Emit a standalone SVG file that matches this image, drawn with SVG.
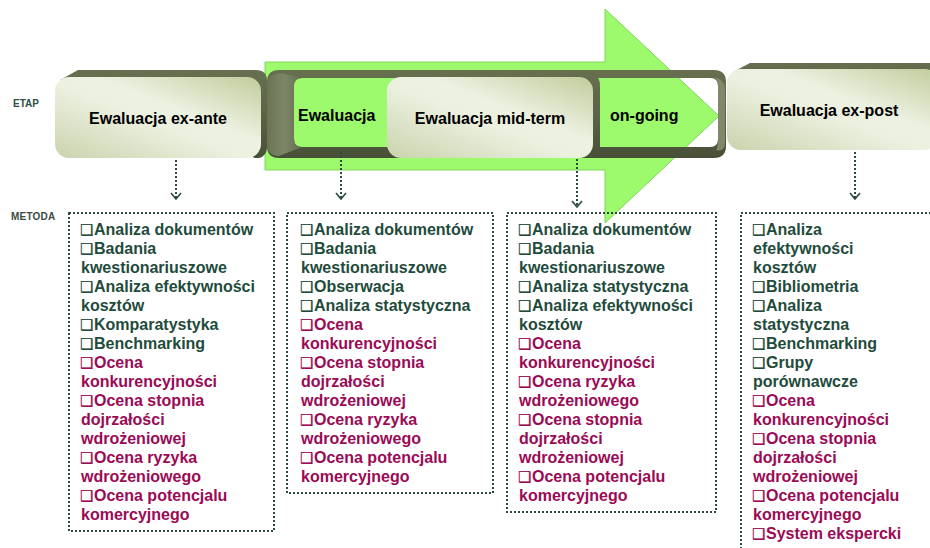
<svg xmlns="http://www.w3.org/2000/svg" width="930" height="548" viewBox="0 0 930 548">
<style>
.lbl{font-family:"Liberation Sans",Arial,sans-serif;font-weight:bold;font-size:10px}
.h{font-family:"Liberation Sans",Arial,sans-serif;font-weight:bold;font-size:16px;fill:#000}
.t{font-family:"Liberation Sans",Arial,sans-serif;font-weight:bold;font-size:16px}
.g{fill:#1f4b3c}
.m{fill:#9b0a55}
.q{font-family:"DejaVu Sans",sans-serif;font-weight:bold;font-size:15px}
.g.q{stroke:#1f4b3c;stroke-width:0.3}
.m.q{stroke:#9b0a55;stroke-width:0.3}
.box{fill:none;stroke:#2c4a3e;stroke-width:2;stroke-dasharray:2 2}
.con{fill:none;stroke:#2c4a3e;stroke-width:2;stroke-dasharray:2 2}
.face{fill:url(#face)}
.bev{fill:url(#bev)}
</style>
<defs>
<linearGradient id="face" x1="0" y1="1" x2="1" y2="0">
<stop offset="0" stop-color="#cad3ad"/>
<stop offset="0.45" stop-color="#ebf0df"/>
<stop offset="0.6" stop-color="#ecf1e1"/>
<stop offset="1" stop-color="#c1cc9b"/>
</linearGradient>
<linearGradient id="bev" x1="0" y1="0" x2="0" y2="1">
<stop offset="0" stop-color="#66704f"/>
<stop offset="0.5" stop-color="#5b6447"/>
<stop offset="1" stop-color="#474f37"/>
</linearGradient>
<linearGradient id="lft" x1="0" y1="0" x2="1" y2="0">
<stop offset="0" stop-color="#6a7352"/>
<stop offset="0.5" stop-color="#7d8667"/>
<stop offset="1" stop-color="#646d4d"/>
</linearGradient>
<marker id="ah" markerWidth="14" markerHeight="14" refX="0" refY="0" viewBox="-8 -7 10 14" orient="auto" markerUnits="userSpaceOnUse">
<path d="M-6,-5 L0,0 L-6,5" fill="none" stroke="#2c4a3e" stroke-width="1.6"/>
</marker>
</defs>
<rect width="930" height="548" fill="#fff"/>

<g id="arrow">
<polygon points="265,62 605,62 605,9 719,116 605,223 605,170 265,170" fill="#9cfa6c" stroke="#82d45a" stroke-width="1"/>
</g>

<g id="labels">
<text class="lbl" x="13" y="107" fill="#2e5045" font-size="10.5">ETAP</text>
<text class="lbl" x="11" y="220" fill="#3c4a44" letter-spacing="0.2">METODA</text>
</g>

<g id="ex-ante">
<path class="bev" d="M60,80 L78,70 H256 Q267,70 267,81 V147 Q267,156 259,158 H255 Z"/>
<rect class="face" x="55" y="77" width="206" height="81" rx="14"/>
<text class="h" x="158" y="124" text-anchor="middle">Ewaluacja ex-ante</text>
</g>

<g id="on-going">
<path class="bev" fill-rule="evenodd" d="M279,70 H714 Q726,70 726,82 V146 Q726,158 714,158 H279 Q267,158 267,146 V82 Q267,70 279,70 Z M302,78 H710 Q718,78 718,86 V139 Q718,147 710,147 H302 Q294,147 294,139 V86 Q294,78 302,78 Z"/>
<path fill="url(#lft)" d="M281,73 Q267,74 267,88 V144 Q267,156 279,156 L302,147 Q294,147 294,139 V86 Q294,78 302,78 Z"/>
<path fill="#7f8868" d="M718,86 Q718,78 712,77 Q724,78 725,88 V144 Q724,152 716,150 Q718,148 718,139 Z"/>
<text class="h" x="298" y="121">Ewaluacja</text>
<text class="h" x="610" y="121">on-going</text>
</g>

<g id="mid-term">
<path class="bev" d="M585,72 Q600,72 600,86 V148 Q600,158 588,158 Z"/>
<rect class="face" x="387" y="77" width="206" height="81" rx="14"/>
<text class="h" x="490" y="124" text-anchor="middle">Ewaluacja mid-term</text>
</g>

<g id="ex-post">
<path class="bev" d="M733,72 L750,63 H935 V90 H730 Z"/>
<rect class="face" x="727" y="69" width="212" height="81" rx="14"/>
<text class="h" x="829" y="116" text-anchor="middle">Ewaluacja ex-post</text>
</g>

<g id="connectors">
<line class="con" x1="176" y1="160" x2="176" y2="199" marker-end="url(#ah)"/>
<line class="con" x1="341" y1="152" x2="341" y2="199" marker-end="url(#ah)"/>
<line class="con" x1="577" y1="159" x2="577" y2="207" marker-end="url(#ah)"/>
<line class="con" x1="855" y1="152" x2="855" y2="199" marker-end="url(#ah)"/>
</g>

<g id="metody-ex-ante">
<rect class="box" x="69" y="213" width="205" height="318"/>
<text class="t">
<tspan class="g q" x="80" y="235">❑</tspan><tspan class="g" x="94" y="235">Analiza dokumentów</tspan>
<tspan class="g q" x="80" y="254">❑</tspan><tspan class="g" x="94" y="254">Badania</tspan>
<tspan class="g" x="81" y="273">kwestionariuszowe</tspan>
<tspan class="g q" x="80" y="292">❑</tspan><tspan class="g" x="94" y="292">Analiza efektywności</tspan>
<tspan class="g" x="81" y="311">kosztów</tspan>
<tspan class="g q" x="80" y="330">❑</tspan><tspan class="g" x="94" y="330">Komparatystyka</tspan>
<tspan class="g q" x="80" y="349">❑</tspan><tspan class="g" x="94" y="349">Benchmarking</tspan>
<tspan class="m q" x="80" y="368">❑</tspan><tspan class="m" x="94" y="368">Ocena</tspan>
<tspan class="m" x="81" y="387">konkurencyjności</tspan>
<tspan class="m q" x="80" y="406">❑</tspan><tspan class="m" x="94" y="406">Ocena stopnia</tspan>
<tspan class="m" x="81" y="425">dojrzałości</tspan>
<tspan class="m" x="81" y="444">wdrożeniowej</tspan>
<tspan class="m q" x="80" y="463">❑</tspan><tspan class="m" x="94" y="463">Ocena ryzyka</tspan>
<tspan class="m" x="81" y="482">wdrożeniowego</tspan>
<tspan class="m q" x="80" y="501">❑</tspan><tspan class="m" x="94" y="501">Ocena potencjalu</tspan>
<tspan class="m" x="81" y="520">komercyjnego</tspan>
</text>
</g>

<g id="metody-on-going">
<rect class="box" x="287" y="213" width="206" height="280"/>
<text class="t">
<tspan class="g q" x="300" y="235">❑</tspan><tspan class="g" x="314" y="235">Analiza dokumentów</tspan>
<tspan class="g q" x="300" y="254">❑</tspan><tspan class="g" x="314" y="254">Badania</tspan>
<tspan class="g" x="301" y="273">kwestionariuszowe</tspan>
<tspan class="g q" x="300" y="292">❑</tspan><tspan class="g" x="314" y="292">Obserwacja</tspan>
<tspan class="g q" x="300" y="311">❑</tspan><tspan class="g" x="314" y="311">Analiza statystyczna</tspan>
<tspan class="m q" x="300" y="330">❑</tspan><tspan class="m" x="314" y="330">Ocena</tspan>
<tspan class="m" x="301" y="349">konkurencyjności</tspan>
<tspan class="m q" x="300" y="368">❑</tspan><tspan class="m" x="314" y="368">Ocena stopnia</tspan>
<tspan class="m" x="301" y="387">dojrzałości</tspan>
<tspan class="m" x="301" y="406">wdrożeniowej</tspan>
<tspan class="m q" x="300" y="425">❑</tspan><tspan class="m" x="314" y="425">Ocena ryzyka</tspan>
<tspan class="m" x="301" y="444">wdrożeniowego</tspan>
<tspan class="m q" x="300" y="463">❑</tspan><tspan class="m" x="314" y="463">Ocena potencjalu</tspan>
<tspan class="m" x="301" y="482">komercyjnego</tspan>
</text>
</g>

<g id="metody-mid-term">
<rect class="box" x="507" y="213" width="209" height="299"/>
<text class="t">
<tspan class="g q" x="518" y="235">❑</tspan><tspan class="g" x="532" y="235">Analiza dokumentów</tspan>
<tspan class="g q" x="518" y="254">❑</tspan><tspan class="g" x="532" y="254">Badania</tspan>
<tspan class="g" x="519" y="273">kwestionariuszowe</tspan>
<tspan class="g q" x="518" y="292">❑</tspan><tspan class="g" x="532" y="292">Analiza statystyczna</tspan>
<tspan class="g q" x="518" y="311">❑</tspan><tspan class="g" x="532" y="311">Analiza efektywności</tspan>
<tspan class="g" x="519" y="330">kosztów</tspan>
<tspan class="m q" x="518" y="349">❑</tspan><tspan class="m" x="532" y="349">Ocena</tspan>
<tspan class="m" x="519" y="368">konkurencyjności</tspan>
<tspan class="m q" x="518" y="387">❑</tspan><tspan class="m" x="532" y="387">Ocena ryzyka</tspan>
<tspan class="m" x="519" y="406">wdrożeniowego</tspan>
<tspan class="m q" x="518" y="425">❑</tspan><tspan class="m" x="532" y="425">Ocena stopnia</tspan>
<tspan class="m" x="519" y="444">dojrzałości</tspan>
<tspan class="m" x="519" y="463">wdrożeniowej</tspan>
<tspan class="m q" x="518" y="482">❑</tspan><tspan class="m" x="532" y="482">Ocena potencjalu</tspan>
<tspan class="m" x="519" y="501">komercyjnego</tspan>
</text>
</g>

<g id="metody-ex-post">
<rect class="box" x="741" y="213" width="200" height="360"/>
<text class="t">
<tspan class="g q" x="752" y="235">❑</tspan><tspan class="g" x="766" y="235">Analiza</tspan>
<tspan class="g" x="753" y="254">efektywności</tspan>
<tspan class="g" x="753" y="273">kosztów</tspan>
<tspan class="g q" x="752" y="292">❑</tspan><tspan class="g" x="766" y="292">Bibliometria</tspan>
<tspan class="g q" x="752" y="311">❑</tspan><tspan class="g" x="766" y="311">Analiza</tspan>
<tspan class="g" x="753" y="330">statystyczna</tspan>
<tspan class="g q" x="752" y="349">❑</tspan><tspan class="g" x="766" y="349">Benchmarking</tspan>
<tspan class="g q" x="752" y="368">❑</tspan><tspan class="g" x="766" y="368">Grupy</tspan>
<tspan class="g" x="753" y="387">porównawcze</tspan>
<tspan class="m q" x="752" y="406">❑</tspan><tspan class="m" x="766" y="406">Ocena</tspan>
<tspan class="m" x="753" y="425">konkurencyjności</tspan>
<tspan class="m q" x="752" y="444">❑</tspan><tspan class="m" x="766" y="444">Ocena stopnia</tspan>
<tspan class="m" x="753" y="463">dojrzałości</tspan>
<tspan class="m" x="753" y="482">wdrożeniowej</tspan>
<tspan class="m q" x="752" y="501">❑</tspan><tspan class="m" x="766" y="501">Ocena potencjalu</tspan>
<tspan class="m" x="753" y="520">komercyjnego</tspan>
<tspan class="m q" x="752" y="539">❑</tspan><tspan class="m" x="766" y="539">System ekspercki</tspan>
</text>
</g>
</svg>
